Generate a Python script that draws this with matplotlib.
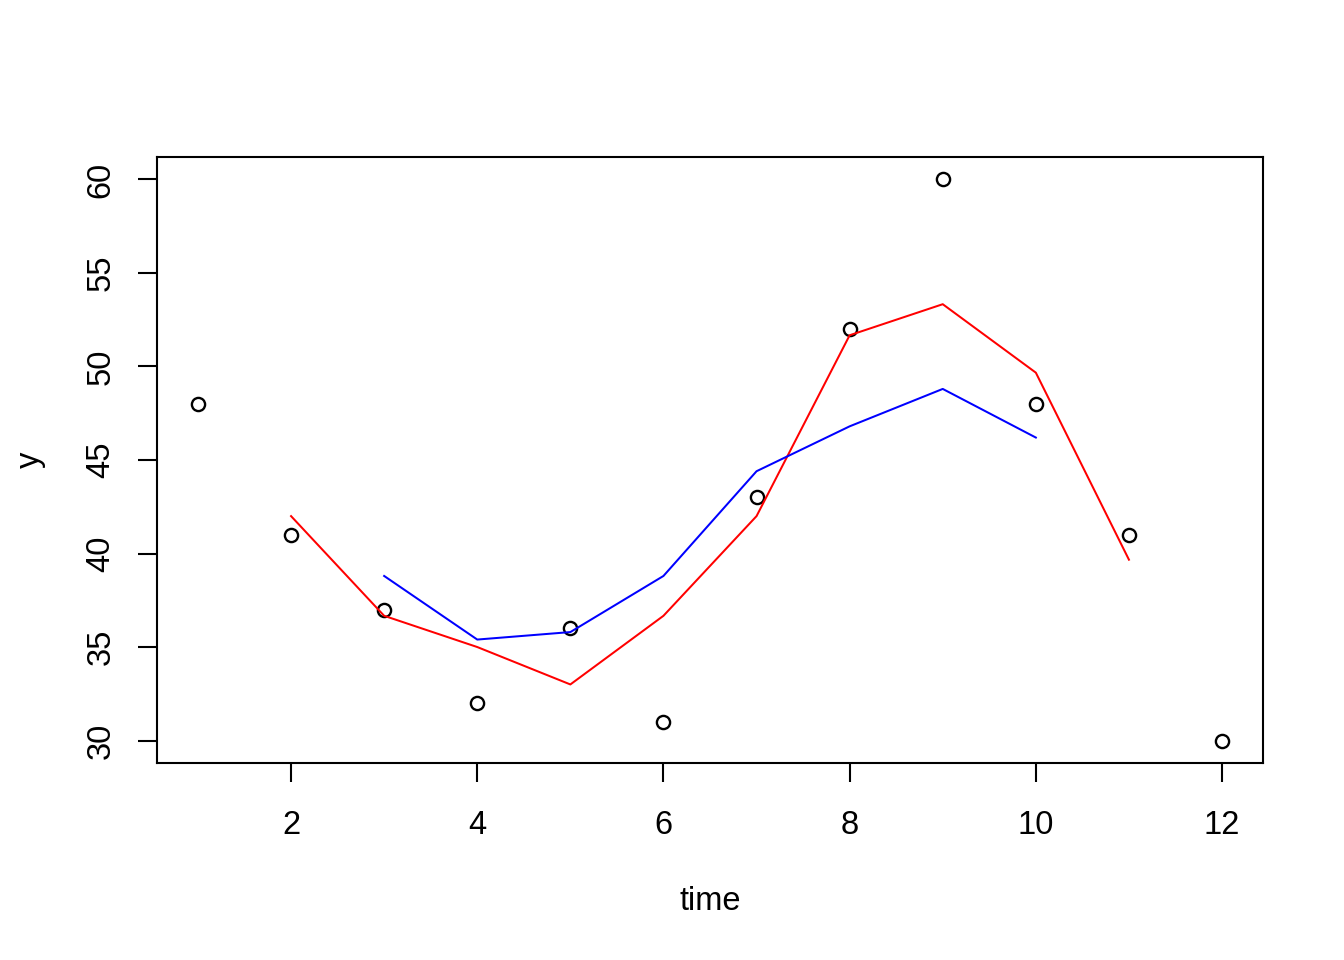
import matplotlib
matplotlib.use("Agg")
import matplotlib.pyplot as plt

plt.rcParams['font.family'] = ['Liberation Sans', 'DejaVu Sans']

time = [1, 2, 3, 4, 5, 6, 7, 8, 9, 10, 11, 12]
y = [48, 41, 37, 32, 36, 31, 43, 52, 60, 48, 41, 30]

t_red = [2, 3, 4, 5, 6, 7, 8, 9, 10, 11]
ma3 = [42.0, 36.67, 35.0, 33.0, 36.67, 42.0, 51.67, 53.33, 49.67, 39.67]

t_blue = [3, 4, 5, 6, 7, 8, 9, 10]
ma5 = [38.8, 35.4, 35.8, 38.8, 44.4, 46.8, 48.8, 46.2]

xticks = [2, 4, 6, 8, 10, 12]
yticks = [30, 35, 40, 45, 50, 55, 60]

fig = plt.figure(figsize=(13.44, 9.6), dpi=100)
ax = fig.add_axes([157/1344, 1-763/960, (1263-157)/1344, (763-157)/960])

ax.plot(time, y, linestyle='none', marker='o', markersize=9.5,
        markerfacecolor='none', markeredgecolor='black', markeredgewidth=1.7)
ax.plot(t_red, ma3, color='red', linewidth=1.45)
ax.plot(t_blue, ma5, color='blue', linewidth=1.45)

ax.set_xlim(0.56, 12.44)
ax.set_ylim(28.8, 61.2)
ax.set_xticks(xticks)
ax.set_yticks(yticks)
ax.set_yticklabels([str(v) for v in yticks], rotation=90, va='center')
ax.tick_params(axis='both', length=14, width=1.5, labelsize=23.5, color='black')
ax.tick_params(axis='x', pad=20)
ax.tick_params(axis='y', pad=15)
for s in ax.spines.values():
    s.set_linewidth(1.5)

fig.text(710/1344, 1-902/960, 'time', ha='center', va='center', fontsize=23.5)
fig.text(30/1344, 1-460/960, 'y', ha='center', va='center', fontsize=23.5, rotation=90)

fig.savefig('out.png', dpi=100)
